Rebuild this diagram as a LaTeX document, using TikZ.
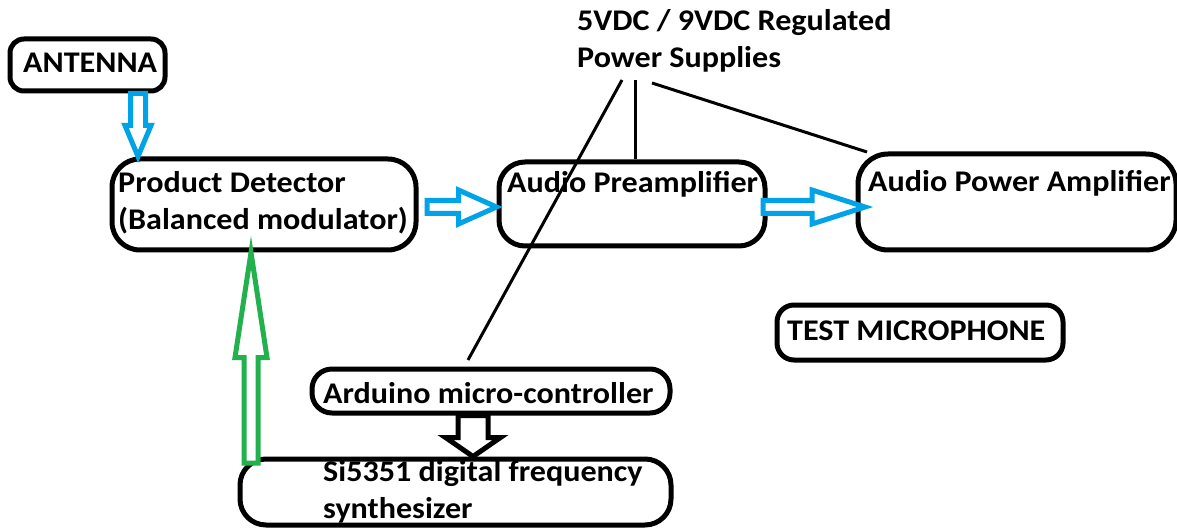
\documentclass[tikz,border=0pt]{standalone}
\usepackage{fontspec}
\setmainfont{Carlito}[FakeStretch=1.07]
\usetikzlibrary{calc}
\definecolor{sigblue}{RGB}{0,162,232}
\definecolor{refgreen}{RGB}{34,177,76}

% hollow block arrows: start, end, shaft half width, head half width, head length
\newcommand\blockdown[6]{%
  \draw[hollow=#6] let \p1=(#1), \p2=(#2) in
    (\x1-#3,\y1) -- (\x1+#3,\y1) -- (\x1+#3,\y2+#5) -- (\x1+#4,\y2+#5) --
    (\x1,\y2) -- (\x1-#4,\y2+#5) -- (\x1-#3,\y2+#5) -- cycle;}
\newcommand\blockup[6]{%
  \draw[hollow=#6] let \p1=(#1), \p2=(#2) in
    (\x1-#3,\y1) -- (\x1+#3,\y1) -- (\x1+#3,\y2-#5) -- (\x1+#4,\y2-#5) --
    (\x1,\y2) -- (\x1-#4,\y2-#5) -- (\x1-#3,\y2-#5) -- cycle;}
\newcommand\blockright[6]{%
  \draw[hollow=#6] let \p1=(#1), \p2=(#2) in
    (\x1,\y1-#3) -- (\x1,\y1+#3) -- (\x2-#5,\y1+#3) -- (\x2-#5,\y1+#4) --
    (\x2,\y1) -- (\x2-#5,\y1-#4) -- (\x2-#5,\y1-#3) -- cycle;}

\begin{document}
\begin{tikzpicture}[x=1pt,y=-1pt,
  box/.style={draw, line width=5pt, rounded corners=#1, inner sep=0pt},
  box/.default=20pt,
  lbl/.style={anchor=base west, inner sep=0pt, align=left,
    font=\fontsize{30}{37}\selectfont\bfseries},
  wire/.style={line width=3pt},
  hollow/.style={draw=#1, line width=5pt, line join=miter, fill=white}]
\useasboundingbox (0,0) rectangle (1177,529);

% blocks
\node[box=14pt, minimum width=155pt, minimum height=52pt] (ant) at (87.5,65) {};
\node[box=28pt, minimum width=304pt, minimum height=91pt] (pd)  at (264,204.5) {};
\node[box=26pt, minimum width=266pt, minimum height=84pt] (pre) at (632,204) {};
\node[box=30pt, minimum width=318pt, minimum height=96pt] (pa)  at (1017,202) {};
\node[box=17pt, minimum width=286pt, minimum height=55pt] (mic) at (920,332.5) {};
\node[box=20pt, minimum width=358pt, minimum height=44pt] (ard) at (491,391) {};
\node[box=26pt, minimum width=431pt, minimum height=66pt] (syn) at (455.5,492) {};

% labels (multi-line labels sit on the baseline of their last line)
\node[lbl] (antT) at (23,73) {ANTENNA};
\node[lbl] (pdT)  at (118,230) {Product Detector\\(Balanced modulator)};
\node[lbl] (preT) at (507,193) {Audio Preamplifier};
\node[lbl] (paT)  at (868,192) {Audio Power Amplifier};
\node[lbl] (micT) at (787,340) {TEST MICROPHONE};
\node[lbl] (ardT) at (323,403) {Arduino micro-controller};
\node[lbl] (synT) at (323,518) {Si5351 digital frequency\\synthesizer};
\node[lbl] (ps)   at (577,68) {5VDC / 9VDC Regulated\\Power Supplies};

% power distribution wires
\coordinate (psA) at (622,80);
\coordinate (psB) at (635,80);
\coordinate (psC) at (652,83);
\coordinate (ardTop) at (468,360);
\coordinate (paTop) at (867,152);
\draw[wire] (psA) -- (ardTop);
\draw[wire] (psB) -- (635,0 |- pre.north);
\draw[wire] (psC) -- (paTop);

% signal flow arrows
\blockdown{138,0 |- ant.south}{138,0 |- pd.north}{7.5pt}{13pt}{31pt}{sigblue}
\blockright{427,207}{pre.west |- 0,207}{6.5pt}{17pt}{38pt}{sigblue}
\blockright{763,207}{865,207}{6.5pt}{17pt}{53pt}{sigblue}
\blockdown{473,0 |- ard.south}{473,0 |- syn.north}{15pt}{27.5pt}{19pt}{black}
\blockup{251,463}{251,0 |- pd.south}{7pt}{16pt}{105pt}{refgreen}
\end{tikzpicture}
\end{document}
